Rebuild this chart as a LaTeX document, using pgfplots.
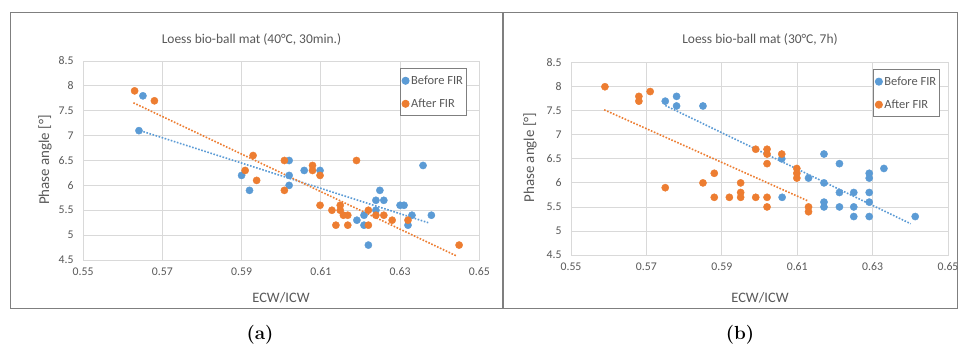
\documentclass[border=0pt]{standalone}
\usepackage{pgfplots}
\pgfplotsset{compat=1.18}
\usepackage{fontspec}
\newfontfamily\cf{Carlito}
\definecolor{cblue}{HTML}{5B9BD5}
\definecolor{corange}{HTML}{ED7D31}
\definecolor{ctext}{HTML}{595959}
\definecolor{cgrid}{HTML}{D9D9D9}
\definecolor{cbox}{HTML}{7F7F7F}
\pgfplotsset{
  mychart/.style={
    scale only axis,
    anchor=south west,
    xmin=0.55, xmax=0.65, ymin=4.5, ymax=8.5,
    xtick={0.55,0.57,...,0.65},
    ytick={4.5,5,...,8.5},
    grid=major,
    major grid style={draw=cgrid, line width=0.8bp},
    axis line style={draw=cgrid, line width=0.8bp},
    major tick length=0pt,
    /pgf/number format/assume math mode=true,
    xticklabel style={/pgf/number format/fixed, /pgf/number format/fixed zerofill, /pgf/number format/precision=2, yshift=-4bp},
    yticklabel style={/pgf/number format/fixed, /pgf/number format/precision=1, xshift=-6bp},
    ticklabel style={font=\cf\fontsize{11.8}{12}\selectfont, text=ctext},
    legend cell align=left,
    legend style={draw=cbox, fill=white, font=\cf\fontsize{12.5}{13}\selectfont, text=ctext,
      inner xsep=1.5bp, inner ysep=5bp, row sep=9bp, anchor=north west, line width=0.8bp},
    legend image code/.code={\draw[mark repeat=2,mark phase=2,#1] plot coordinates {(0bp,0bp) (4bp,0bp) (8bp,0bp)};},
  },
  bser/.style={only marks, mark=*, mark size=3.6bp, mark options={draw=cblue, fill=cblue}},
  oser/.style={only marks, mark=*, mark size=3.6bp, mark options={draw=corange, fill=corange}},
  btr/.style={cblue, line width=1.6bp, dash pattern=on 1.6bp off 1.6bp, forget plot},
  otr/.style={corange, line width=1.6bp, dash pattern=on 1.6bp off 1.6bp, forget plot},
}
\begin{document}
\begin{tikzpicture}[x=1bp,y=1bp]
\path[use as bounding box] (0,0) rectangle (960,350);
\fill[white] (0,0) rectangle (960,350);
\draw[cbox, line width=0.9bp] (10,42) rectangle (502,338);
\draw[cbox, line width=0.9bp] (503,42) rectangle (957,338);

% Panel (a)
\begin{axis}[mychart, at={(83.1bp,90bp)}, width=396.2bp, height=199bp,
  legend style={at={(0.80,0.963)}}]
\addplot[bser] coordinates {(0.5651,7.8)(0.5641,7.1)(0.590,6.2)(0.592,5.9)(0.602,6.5)(0.6058,6.3)(0.6098,6.3)(0.602,6.2)(0.602,6.0)(0.6358,6.4)(0.6191,5.3)(0.6209,5.4)(0.6209,5.2)(0.622,4.8)(0.6239,5.5)(0.6239,5.7)(0.6249,5.9)(0.6259,5.7)(0.630,5.6)(0.631,5.6)(0.633,5.4)(0.632,5.2)(0.6379,5.4)};
\addlegendentry{Before FIR}
\addplot[oser] coordinates {(0.563,7.9)(0.568,7.7)(0.5929,6.6)(0.5909,6.3)(0.5938,6.1)(0.6008,6.5)(0.6079,6.4)(0.6079,6.3)(0.6098,6.2)(0.619,6.5)(0.6008,5.9)(0.6098,5.6)(0.6128,5.5)(0.6149,5.6)(0.6149,5.5)(0.6157,5.4)(0.6168,5.4)(0.6138,5.2)(0.6168,5.2)(0.622,5.2)(0.622,5.5)(0.6239,5.4)(0.6259,5.4)(0.628,5.3)(0.632,5.3)(0.6449,4.8)};
\addlegendentry{After FIR}
\addplot[btr] coordinates {(0.5652,7.08)(0.6371,5.25)};
\addplot[otr] coordinates {(0.5627,7.66)(0.6443,4.58)};
\end{axis}

% Panel (b)
\begin{axis}[mychart, at={(571bp,95bp)}, width=377bp, height=192.3bp,
  legend style={at={(0.802,0.966)}}]
\addplot[bser] coordinates {(0.575,7.7)(0.578,7.8)(0.578,7.6)(0.585,7.6)(0.6059,6.5)(0.606,5.7)(0.613,6.1)(0.6171,6.6)(0.6171,6.0)(0.6171,5.6)(0.6171,5.5)(0.6212,6.4)(0.6212,5.8)(0.6212,5.5)(0.625,5.8)(0.625,5.5)(0.625,5.3)(0.6291,6.2)(0.6291,6.1)(0.6291,5.8)(0.6291,5.6)(0.6291,5.3)(0.633,6.3)(0.6413,5.3)};
\addlegendentry{Before FIR}
\addplot[oser] coordinates {(0.559,8.0)(0.568,7.8)(0.568,7.7)(0.571,7.9)(0.575,5.9)(0.585,6.0)(0.588,6.2)(0.588,5.7)(0.592,5.7)(0.595,6.0)(0.595,5.8)(0.595,5.7)(0.599,6.7)(0.599,5.7)(0.602,6.7)(0.602,6.6)(0.602,6.4)(0.602,5.7)(0.602,5.5)(0.6059,6.6)(0.6099,6.3)(0.6099,6.2)(0.6099,6.1)(0.613,5.5)(0.613,5.4)};
\addlegendentry{After FIR}
\addplot[btr] coordinates {(0.575,7.61)(0.6401,5.15)};
\addplot[otr] coordinates {(0.5588,7.52)(0.6127,5.63)};
\end{axis}

% Titles and labels
\node[font=\cf\fontsize{13.5}{14}\selectfont, text=ctext] at (251.5,310) {Loess bio-ball mat (40°C, 30min.)};
\node[font=\cf\fontsize{13.5}{14}\selectfont, text=ctext] at (760,310) {Loess bio-ball mat (30°C, 7h)};
\node[font=\cf\fontsize{14.5}{15}\selectfont, text=ctext] at (281,52) {ECW/ICW};
\node[font=\cf\fontsize{14.5}{15}\selectfont, text=ctext] at (760,52) {ECW/ICW};
\node[font=\cf\fontsize{15}{15}\selectfont, text=ctext, rotate=90] at (45,190) {Phase angle [°]};
\node[font=\cf\fontsize{15}{15}\selectfont, text=ctext, rotate=90] at (530,192.5) {Phase angle [°]};
\node[font=\bfseries\fontsize{19}{20}\selectfont] at (260,15) {(a)};
\node[font=\bfseries\fontsize{19}{20}\selectfont] at (740,15) {(b)};
\end{tikzpicture}
\end{document}
